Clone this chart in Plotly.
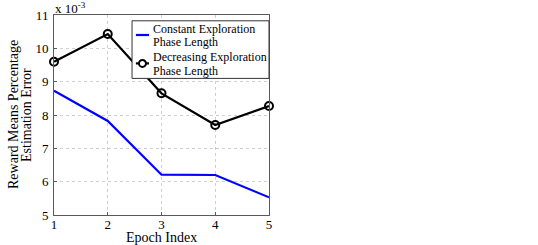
import plotly.graph_objects as go

epochs = [1, 2, 3, 4, 5]
constant_err = [0.00873, 0.00782, 0.00621, 0.00620, 0.00553]
decreasing_err = [0.00960, 0.01043, 0.00865, 0.00770, 0.00827]
y_ticks = [0.005, 0.006, 0.007, 0.008, 0.009, 0.010, 0.011]
y_tick_labels = ["5", "6", "7", "8", "9", "10", "11"]
x_tick_labels = ["1", "2", "3", "4", "5"]
series_names = [["Constant Exploration", "Phase Length"],
                ["Decreasing Exploration", "Phase Length"]]

FONT = "Liberation Serif"
BLUE = "#0000ff"
BLACK = "#000000"
AXIS = "#5a5a5a"

fig = go.Figure()
fig.add_trace(go.Scatter(
    x=epochs, y=constant_err, mode="lines",
    name=" ".join(series_names[0]),
    line=dict(color=BLUE, width=2.2), cliponaxis=False,
))
fig.add_trace(go.Scatter(
    x=epochs, y=decreasing_err, mode="lines+markers",
    name=" ".join(series_names[1]),
    line=dict(color=BLACK, width=2.2),
    marker=dict(symbol="circle-open", size=8, color=BLACK, line=dict(width=2)),
    cliponaxis=False,
))

# ---- manual legend (paper coordinates) ----
L_X0, L_X1, L_Y0, L_Y1 = 0.363, 1.0, 0.683, 0.971
S_X0, S_X1 = 0.381, 0.442
TXT_X = 0.449
shapes = [
    dict(type="rect", xref="paper", yref="paper", x0=L_X0, x1=L_X1, y0=L_Y0, y1=L_Y1,
         fillcolor="white", line=dict(color="#333", width=1), layer="above"),
    dict(type="line", xref="paper", yref="paper", x0=S_X0, x1=S_X1, y0=0.90, y1=0.90,
         line=dict(color=BLUE, width=2.2), layer="above"),
    dict(type="line", xref="paper", yref="paper", x0=S_X0, x1=S_X1, y0=0.758, y1=0.758,
         line=dict(color=BLACK, width=2.2), layer="above"),
    dict(type="circle", xref="paper", yref="paper", xsizemode="pixel", ysizemode="pixel",
         xanchor=(S_X0 + S_X1) / 2, yanchor=0.758, x0=-3.5, x1=3.5, y0=-3.5, y1=3.5,
         fillcolor="white", line=dict(color=BLACK, width=2), layer="above"),
]

annotations = []
text_rows = [(series_names[0][0], 0.932), (series_names[0][1], 0.866),
             (series_names[1][0], 0.788), (series_names[1][1], 0.722)]
for txt, yy in text_rows:
    annotations.append(dict(text=txt, xref="paper", yref="paper", x=TXT_X, y=yy,
                            xanchor="left", yanchor="middle", showarrow=False,
                            font=dict(family=FONT, size=12, color="black")))

# y-axis title, two lines
annotations.append(dict(text="Reward Means Percentage", xref="paper", yref="paper",
                        x=0, y=0.5, xshift=-41, textangle=-90, xanchor="center",
                        yanchor="middle", showarrow=False,
                        font=dict(family=FONT, size=14, color="black")))
annotations.append(dict(text="Estimation Error", xref="paper", yref="paper",
                        x=0, y=0.5, xshift=-28, textangle=-90, xanchor="center",
                        yanchor="middle", showarrow=False,
                        font=dict(family=FONT, size=14, color="black")))
# x-axis title
annotations.append(dict(text="Epoch Index", xref="paper", yref="paper",
                        x=0.5, y=0, yshift=-22, xanchor="center", yanchor="middle",
                        showarrow=False, font=dict(family=FONT, size=14, color="black")))
# exponent
annotations.append(dict(text="x 10<sup>-3</sup>", xref="paper", yref="paper", x=0, y=1,
                        xanchor="left", yanchor="bottom", showarrow=False, xshift=-1,
                        yshift=-3, font=dict(family=FONT, size=13, color="black")))

fig.update_layout(
    width=538, height=245,
    margin=dict(l=54, r=269, t=15, b=30, autoexpand=False),
    paper_bgcolor="white", plot_bgcolor="white",
    font=dict(family=FONT, size=13, color="black"),
    showlegend=False,
    hovermode=False,
    shapes=shapes,
    annotations=annotations,
    xaxis=dict(
        range=[1, 5], tickvals=epochs, ticktext=x_tick_labels,
        showgrid=True, gridcolor="#cfcfcf", griddash="dot", gridwidth=1,
        showline=True, linecolor=AXIS, linewidth=1, mirror=True,
        ticks="inside", ticklen=3, tickcolor=AXIS, ticklabelstandoff=-3,
        tickfont=dict(size=13), zeroline=False, automargin=False,
    ),
    yaxis=dict(
        range=[0.005, 0.011], tickvals=y_ticks, ticktext=y_tick_labels,
        showgrid=True, gridcolor="#cfcfcf", griddash="dot", gridwidth=1,
        showline=True, linecolor=AXIS, linewidth=1, mirror=True,
        ticks="inside", ticklen=3, tickcolor=AXIS, ticklabelstandoff=2,
        tickfont=dict(size=13), zeroline=False, automargin=False,
    ),
)

fig.write_html("out.html", config={"displayModeBar": False, "staticPlot": True},
               post_script="document.body.style.margin='0';document.body.style.overflow='hidden';")
